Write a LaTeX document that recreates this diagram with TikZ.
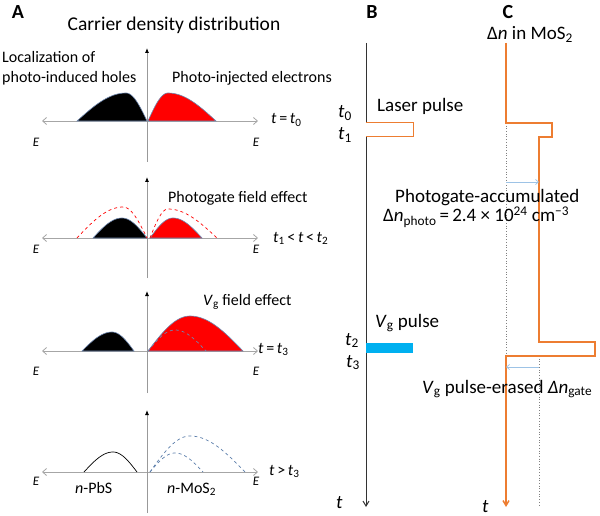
\documentclass[tikz,border=0pt]{standalone}
\usepackage{fontspec}
\setmainfont{Carlito}
\usetikzlibrary{arrows.meta,positioning}

\definecolor{pulseorange}{RGB}{237,125,49}
\definecolor{gateblue}{RGB}{0,176,240}
\definecolor{shiftblue}{RGB}{157,195,230}
\definecolor{edgeblue}{RGB}{110,135,175}
\definecolor{dashblue}{RGB}{90,125,170}

% half-sine hump: start, peak, end, axis, height
\newcommand{\hump}[5]{plot[domain=0:90,samples=24] ({#1+(#2-#1)*\x/90},{#4-#5*sin(\x)}) -- plot[domain=90:180,samples=24] ({#2+(#3-#2)*(\x-90)/90},{#4-#5*sin(\x)})}

\tikzset{
  lbl/.style={inner sep=0pt, font=\fontsize{16}{18}\selectfont},
  midlbl/.style={inner sep=0pt, font=\fontsize{19}{21}\selectfont},
  ttl/.style={inner sep=0pt, font=\fontsize{19.5}{22}\selectfont},
  panel/.style={inner sep=0pt, font=\fontsize{20}{22}\selectfont\bfseries},
  elbl/.style={inner sep=0pt, font=\fontsize{13}{15}\selectfont\itshape},
  eaxis/.style={gray!70, line width=0.8pt, {Straight Barb[length=4pt,width=7pt]}-{Straight Barb[length=4pt,width=7pt]}},
  yaxis/.style={gray!80, line width=0.8pt, -{Latex[black,length=5pt,width=4pt]}},
  holes/.style={fill=black, draw=edgeblue, line width=0.6pt},
  elec/.style={fill=red, draw=edgeblue, line width=0.6pt},
  timeline/.style={black!80, line width=1pt},
  laser/.style={pulseorange, line width=1pt},
  dnline/.style={pulseorange, line width=1.5pt},
  guide/.style={gray, dotted, line width=0.7pt},
  dnshift/.style={shiftblue, line width=0.7pt, -{Straight Barb[length=3pt,width=5pt]}}
}

\begin{document}
\begin{tikzpicture}[x=1pt, y=-1pt]
  \useasboundingbox (0,0) rectangle (600,516);

  % panel A
  \node[panel] (pa) at (18,12) {A};
  \node[ttl, anchor=base] (title) at (174,31) {Carrier density distribution};

  \foreach \r/\ya/\yt/\yb/\ye in {1/121/48/162/147, 2/238/177/278/253, 3/351/291/393/375, 4/472/410/513/485} {
    \coordinate (left\r) at (42,\ya);
    \coordinate (right\r) at (258,\ya);
    \coordinate (top\r) at (147,\yt);
    \coordinate (bot\r) at (147,\yb);
    \draw[eaxis] (left\r) -- (right\r);
    \draw[yaxis] (bot\r) -- (top\r);
    \node[elbl, anchor=base] (eL\r) at (36,\ye) {E};
    \node[elbl, anchor=base] (eR\r) at (256,\ye) {E};
  }

  % t = t0
  \fill[holes] \hump{77}{126}{147}{121}{28} -- cycle;
  \fill[elec] \hump{148}{168}{216}{121}{28} -- cycle;
  \node[lbl, anchor=base west] (loc1) at (2,63) {Localization of};
  \node[lbl, anchor=base west] (loc2) at (2,83) {photo-induced holes};
  \node[lbl, anchor=base west] (inj) at (172,83) {Photo-injected electrons};
  \node[lbl, anchor=base west] (time1) at (271,124) {\textit{t}\,=\,\textit{t}\textsubscript{0}};

  % t1 < t < t2
  \fill[holes] \hump{93}{122}{147}{238}{20} -- cycle;
  \fill[elec] \hump{150}{173}{202}{238}{20} -- cycle;
  \draw[red, dashed, line width=0.7pt] \hump{77}{123}{147}{238}{31};
  \draw[red, dashed, line width=0.7pt] \hump{150}{168}{217}{238}{29};
  \node[lbl, anchor=base west] (pgfe) at (168,203) {Photogate field effect};
  \node[lbl, anchor=base west] (time2) at (273,242) {\textit{t}\textsubscript{1}\,<\,\textit{t}\,<\,\textit{t}\textsubscript{2}};

  % t = t3
  \fill[holes] \hump{82}{112}{134}{351}{19} -- cycle;
  \fill[elec] \hump{148}{190}{243}{351}{35} -- cycle;
  \draw[edgeblue, dashed, line width=0.7pt] \hump{148}{175}{206}{351}{21};
  \node[lbl, anchor=base west] (vgfe) at (203,305) {\textit{V}\textsubscript{g} field effect};
  \node[lbl, anchor=base west] (time3) at (258,353) {\textit{t}\,=\,\textit{t}\textsubscript{3}};

  % t > t3
  \draw[black, line width=0.7pt] \hump{84}{113}{137}{472}{20};
  \draw[dashblue, dashed, line width=0.7pt] \hump{150}{190}{245}{472}{36};
  \draw[dashblue, dashed, line width=0.7pt] \hump{150}{175}{203}{472}{19};
  \node[lbl, anchor=base west] (pbs) at (75,493) {\textit{n}-PbS};
  \node[lbl, anchor=base west] (mos) at (167,493) {\textit{n}-MoS\textsubscript{2}};
  \node[lbl, anchor=base west] (time4) at (269,475) {\textit{t}\,>\,\textit{t}\textsubscript{3}};

  % panel B
  \node[panel] (pb) at (372,12) {B};
  \coordinate (bTop) at (366,43);
  \coordinate (bT0) at (366,123);
  \coordinate (bP0) at (413,123);
  \coordinate (bP1) at (413,137);
  \coordinate (bT1) at (366,137);
  \coordinate (bEnd) at (366,507);
  \draw[timeline] (bTop) -- (bT0);
  \draw[timeline, -{Straight Barb[length=5pt,width=6pt]}] (bT1) -- (bEnd);
  \draw[laser] (bT0) -- (bP0) -- (bP1) -- (bT1);
  \fill[gateblue] (366,343) rectangle (413,353);
  \node[midlbl, anchor=base west] (laserlbl) at (377,112) {Laser pulse};
  \node[midlbl, anchor=base west] (t0) at (338,118) {\textit{t}\textsubscript{0}};
  \node[midlbl, anchor=base west] (t1) at (338,140) {\textit{t}\textsubscript{1}};
  \node[midlbl, anchor=base west] (vglbl) at (375,327) {\textit{V}\textsubscript{g} pulse};
  \node[midlbl, anchor=base west] (t2) at (345,345) {\textit{t}\textsubscript{2}};
  \node[midlbl, anchor=base west] (t3) at (346,367) {\textit{t}\textsubscript{3}};
  \node[midlbl, anchor=base west] (tb) at (336,508) {\textit{t}};

  % panel C
  \node[panel] (pc) at (508,12) {C};
  \node[midlbl, anchor=base west] (dnlbl) at (487,40) {Δ\textit{n} in MoS\textsubscript{2}};
  \coordinate (cTop) at (506,43);
  \coordinate (cA) at (506,123);
  \coordinate (cB) at (552,123);
  \coordinate (cC) at (552,137);
  \coordinate (cD) at (539,137);
  \coordinate (cE) at (539,342);
  \coordinate (cF) at (595,342);
  \coordinate (cG) at (595,356);
  \coordinate (cH) at (506,356);
  \coordinate (cEnd) at (506,507);
  \coordinate (cLow) at (539,505);
  \draw[guide] (cA) -- (cH);
  \draw[guide] (539,356) -- (cLow);
  \draw[dnline, -{Straight Barb[length=5pt,width=6pt]}] (cTop) -- (cA) -- (cB) -- (cC) -- (cD) -- (cE) -- (cF) -- (cG) -- (cH) -- (cEnd);
  \draw[dnshift] (506,182) -- (539,182);
  \draw[dnshift] (539,367) -- (506,367);
  \node[midlbl, anchor=base west] (acc) at (395,203) {Photogate-accumulated};
  \node[midlbl, anchor=base west] (dnphoto) at (383,222) {Δ\textit{n}\textsubscript{photo}\,=\,2.4 × 10\textsuperscript{24} cm\textsuperscript{−3}};
  \node[midlbl, anchor=base west] (erased) at (422,393) {\textit{V}\textsubscript{g} pulse-erased \textit{Δn}\textsubscript{gate}};
  \node[midlbl, anchor=base west] (tc) at (482,512) {\textit{t}};
\end{tikzpicture}
\end{document}
